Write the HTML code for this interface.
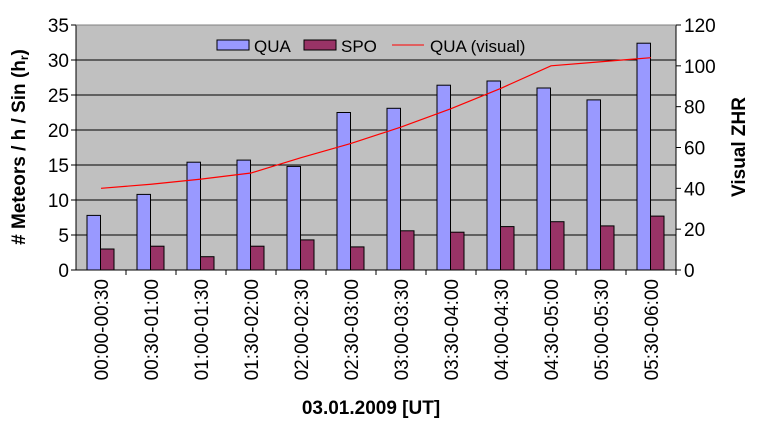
<!DOCTYPE html>
<html><head><meta charset="utf-8"><style>
body{margin:0;background:#fff;}
svg text{font-family:"Liberation Sans",Arial,sans-serif;}
</style></head><body>
<svg id="chart" width="760" height="430" xmlns="http://www.w3.org/2000/svg">
<rect id="plot" x="76" y="25" width="600" height="245" fill="#c0c0c0"/>
<g id="grid"></g><g id="bars"></g><g id="line"></g><g id="axes"></g>
<g>
<rect x="217" y="40" width="32" height="10" fill="#9999ff" stroke="#000"/>
<text x="254" y="52" font-size="17">QUA</text>
<rect x="304" y="40" width="32" height="10" fill="#993366" stroke="#000"/>
<text x="341" y="52" font-size="17">SPO</text>
<line x1="392" y1="45" x2="424" y2="45" stroke="#ff0000"/>
<text x="430" y="52" font-size="17">QUA (visual)</text>
</g>
<text transform="translate(25,147) rotate(-90)" text-anchor="middle" font-size="19" font-weight="bold"># Meteors / h / Sin (h<tspan font-size="12" dy="3">r</tspan><tspan dy="-3">)</tspan></text>
<text transform="translate(745,147) rotate(-90)" text-anchor="middle" font-size="19" font-weight="bold">Visual ZHR</text>
<text x="371" y="414" text-anchor="middle" font-size="19" font-weight="bold">03.01.2009 [UT]</text>
</svg>
<script>
const categories=["00:00-00:30","00:30-01:00","01:00-01:30","01:30-02:00","02:00-02:30","02:30-03:00","03:00-03:30","03:30-04:00","04:00-04:30","04:30-05:00","05:00-05:30","05:30-06:00"];
const quaValues=[7.8,10.8,15.4,15.7,14.8,22.5,23.1,26.4,27.0,26.0,24.3,32.4];
const spoValues=[3.0,3.4,1.9,3.4,4.3,3.3,5.6,5.4,6.2,6.9,6.3,7.7];
const visualValues=[40,42,44.5,47.5,55,62,70,79,89,100,102,104];
const leftTicks=[0,5,10,15,20,25,30,35];
const rightTicks=[0,20,40,60,80,100,120];
const NS="http://www.w3.org/2000/svg";
const X0=76,X1=676,Y0=270,Y1=25,bw=(X1-X0)/categories.length;
const yL=v=>Y0-(v/35)*(Y0-Y1);
const yR=v=>Y0-(v/120)*(Y0-Y1);
const xC=i=>X0+bw*(i+0.5);
function mk(t,a,p){const e=document.createElementNS(NS,t);for(const k in a)e.setAttribute(k,a[k]);p.appendChild(e);return e;}
const grid=document.getElementById('grid'),bars=document.getElementById('bars'),line=document.getElementById('line'),axes=document.getElementById('axes');
leftTicks.forEach(v=>{
 if(v>0){const g=mk('line',{x1:X0,x2:X1,y1:yL(v),y2:yL(v),stroke:'#000'},grid);
 
 }
 mk('line',{x1:X0-5,x2:X0,y1:yL(v),y2:yL(v),stroke:'#000'},axes);
 const t=mk('text',{x:X0-7,y:yL(v)+7,'text-anchor':'end','font-size':'19'},axes);t.textContent=v;
 
 
});
rightTicks.forEach(v=>{
 mk('line',{x1:X1,x2:X1+5,y1:yR(v),y2:yR(v),stroke:'#000'},axes);
 const t=mk('text',{x:X1+8,y:yR(v)+7,'font-size':'19'},axes);t.textContent=v;
 
 
});
mk('line',{x1:X0,x2:X0,y1:Y1,y2:Y0,stroke:'#000'},axes);
mk('line',{x1:X1,x2:X1,y1:Y1,y2:Y0,stroke:'#000'},axes);
mk('line',{x1:X0,x2:X1,y1:Y0,y2:Y0,stroke:'#000'},axes);
mk('line',{x1:X0,x2:X1,y1:Y1,y2:Y1,stroke:'#808080'},axes);
categories.forEach((c,i)=>{
 mk('line',{x1:X0+bw*(i+1),x2:X0+bw*(i+1),y1:Y0,y2:Y0+5,stroke:'#000'},axes);
 const t=mk('text',{transform:`translate(${xC(i)+7},${Y0+9}) rotate(-90)`,'text-anchor':'end','font-size':'19'},axes);t.textContent=c;
 
 
 const q=mk('rect',{x:xC(i)-14,y:yL(quaValues[i]),width:13.5,height:Y0-yL(quaValues[i]),fill:'#9999ff',stroke:'#000'},bars);
 
 
 const s=mk('rect',{x:xC(i)-0.5,y:yL(spoValues[i]),width:13.5,height:Y0-yL(spoValues[i]),fill:'#993366',stroke:'#000'},bars);
 
 
});
const pl=mk('polyline',{points:visualValues.map((v,i)=>xC(i)+','+yR(v)).join(' '),fill:'none',stroke:'#ff0000','stroke-width':'1.2'},line);


</script>
</body></html>
